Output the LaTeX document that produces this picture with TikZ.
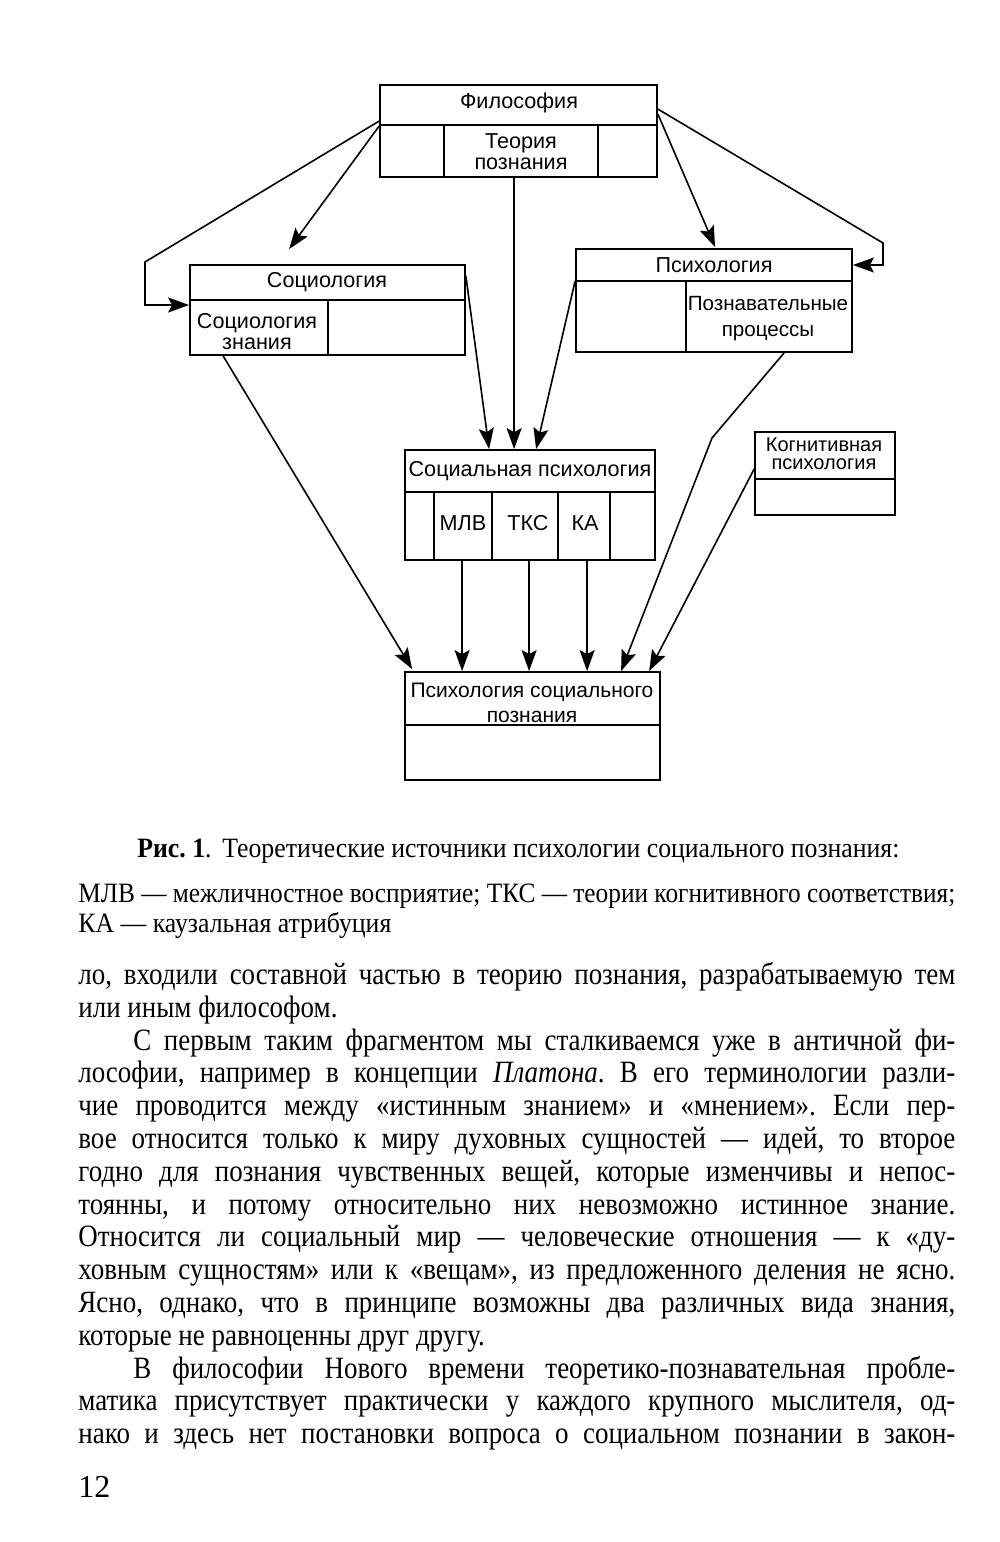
\documentclass[tikz,border=0pt]{standalone}
\usepackage{fontspec}
\usepackage{graphicx}
\setmainfont{Liberation Serif}[FakeStretch=0.87]
\newfontfamily\diag{Liberation Sans}
\newfontfamily\capfont{Liberation Serif}[FakeStretch=0.92]
\newfontfamily\pgfont{Liberation Serif}
\usetikzlibrary{arrows.meta,calc,fit}
\frenchspacing
\tikzset{
  box/.style={draw, line width=0.9pt, inner sep=0pt},
  divl/.style={line width=0.9pt},
  conn/.style={line width=0.8pt, -{Stealth[length=10.5pt,width=7.5pt,inset=2pt]}},
  dtext/.style={font=\diag\fontsize{10.8}{10.5}\selectfont, align=center, inner sep=0pt},
  qtext/.style={font=\diag\fontsize{10.5}{12.5}\selectfont, align=center, inner sep=0pt},
  ptext/.style={font=\diag\fontsize{10.3}{13}\selectfont, align=center, inner sep=0pt},
  ktext/.style={font=\diag\fontsize{10}{9.2}\selectfont, align=center, inner sep=0pt},
  bodyline/.style={anchor=base west, inner sep=0pt, font=\fontsize{15.5}{16}\selectfont},
  capline/.style={anchor=base west, inner sep=0pt, font=\capfont\fontsize{14}{15}\selectfont},
}
\newlength\natw
\newcommand\fitline[2][438.5pt]{%
  \settowidth\natw{#2}%
  \ifdim\natw>#1\relax
    \pgfmathsetmacro\fitfac{#1/\natw}%
    \scalebox{\fitfac}[1]{#2}%
  \else
    \makebox[#1][s]{#2}%
  \fi}
\begin{document}
\begin{tikzpicture}[x=0.5pt,y=-0.5pt]
\path[use as bounding box, fill=white] (0,0) rectangle (1000,1542);

% boxes
\node[box, fit={(380,85) (657,177)}] (fil) {};
\node[box, fit={(190,265) (465,355)}] (soc) {};
\node[box, fit={(576,249) (852,352)}] (psy) {};
\node[box, fit={(405,450) (655,560)}] (sp) {};
\node[box, fit={(755,432) (895,515)}] (kog) {};
\node[box, fit={(405,672) (660,780)}] (psp) {};

% dividers
\draw[divl] (380,125) -- (657,125) (444,125) -- (444,177) (598,125) -- (598,177);
\draw[divl] (190,300) -- (465,300) (328,300) -- (328,355);
\draw[divl] (576,281) -- (852,281) (686,281) -- (686,352);
\draw[divl] (405,492) -- (655,492) (434,492) -- (434,560) (492,492) -- (492,560) (558,492) -- (558,560) (610,492) -- (610,560);
\draw[divl] (755,479) -- (895,479);
\draw[divl] (405,725) -- (660,725);

% texts
\node[dtext] (tfil) at (519,103) {Философия};
\node[dtext] (tteo) at (521,152) {Теория\\познания};
\node[dtext] (tsoc) at (327,282) {Социология};
\node[dtext] (tsocz) at (257,332) {Социология\\знания};
\node[dtext] (tpsy) at (714,265) {Психология};
\node[ptext] (tpoz) at (768,319) {Познавательные\\процессы};
\node[dtext] (tsp) at (530,471) {Социальная психология};
\node[dtext] (tmlv) at (463,523) {МЛВ};
\node[dtext] (ttks) at (528,523) {ТКС};
\node[dtext] (tka) at (585,523) {КА};
\node[ktext] (tkog) at (824,454) {Когнитивная\\психология};
\node[qtext] (tpsp) at (532,703) {Психология социального\\познания};

% bend coordinates
\coordinate (a1) at (145,262);
\coordinate (a2) at (145,305);
\coordinate (e1) at (883,243);
\coordinate (e2) at (883,265);
\coordinate (l1) at (712,438);

% connectors
\draw[conn] ($(fil.north west)+(0,37)$) -- (a1) -- (a2) -- (soc.west |- a2);
\draw[conn] ($(fil.north west)+(0,42)$) -- ($(soc.north west)+(100,-15)$);
\draw[conn] ($(fil.south west)+(135,0)$) -- ($(sp.north west)+(110,0)$);
\draw[conn] ($(fil.north east)+(0,30)$) -- ($(psy.north west)+(140,-1)$);
\draw[conn] ($(fil.north east)+(0,25)$) -- (e1) -- (e2) -- (psy.east |- e2);
\draw[conn] ($(soc.north east)+(0,12)$) -- ($(sp.north west)+(85,0)$);
\draw[conn] ($(psy.north west)+(0,33)$) -- ($(sp.north west)+(132,0)$);
\draw[conn] ($(soc.south west)+(34,0)$) -- ($(psp.north west)+(8,-2)$);
\draw[conn] ($(sp.south west)+(58,0)$) -- ($(psp.north west)+(58,0)$);
\draw[conn] ($(sp.south west)+(125,0)$) -- ($(psp.north west)+(125,0)$);
\draw[conn] ($(sp.south west)+(183,0)$) -- ($(psp.north west)+(183,0)$);
\draw[conn] ($(psy.south west)+(209,0)$) -- (l1) -- ($(psp.north west)+(217,0)$);
\draw[conn] ($(kog.north west)+(0,38)$) -- ($(psp.north west)+(245,0)$);

% caption
\node[capline] (cap1a) at (137,857) {\textbf{Рис. 1}.};
\node[capline] (cap1b) at (222,857) {Теоретические источники психологии социального познания:};
\node[capline] (cap2) at (78,902) {\fitline{МЛВ — межличностное восприятие; ТКС — теории когнитивного соответствия;}};
\node[capline] (cap3) at (78,932) {КА — каузальная атрибуция};

% body
\node[bodyline] (b1) at (78,984) {\fitline{ло, входили составной частью в теорию познания, разрабатываемую тем}};
\node[bodyline] (b2) at (78,1017) {или иным философом.};
\node[bodyline] (b3) at (133,1050) {\fitline[411pt]{С первым таким фрагментом мы сталкиваемся уже в античной фи-}};
\node[bodyline] (b4) at (78,1082) {\fitline{лософии, например в концепции \textit{Платона}. В его терминологии разли-}};
\node[bodyline] (b5) at (78,1115) {\fitline{чие проводится между «истинным знанием» и «мнением». Если пер-}};
\node[bodyline] (b6) at (78,1148) {\fitline{вое относится только к миру духовных сущностей — идей, то второе}};
\node[bodyline] (b7) at (78,1181) {\fitline{годно для познания чувственных вещей, которые изменчивы и непос-}};
\node[bodyline] (b8) at (78,1214) {\fitline{тоянны, и потому относительно них невозможно истинное знание.}};
\node[bodyline] (b9) at (78,1246) {\fitline{Относится ли социальный мир — человеческие отношения — к «ду-}};
\node[bodyline] (b10) at (78,1279) {\fitline{ховным сущностям» или к «вещам», из предложенного деления не ясно.}};
\node[bodyline] (b11) at (78,1312) {\fitline{Ясно, однако, что в принципе возможны два различных вида знания,}};
\node[bodyline] (b12) at (78,1345) {которые не равноценны друг другу.};
\node[bodyline] (b13) at (133,1378) {\fitline[411pt]{В философии Нового времени теоретико-познавательная пробле-}};
\node[bodyline] (b14) at (78,1410) {\fitline{матика присутствует практически у каждого крупного мыслителя, од-}};
\node[bodyline] (b15) at (78,1443) {\fitline{нако и здесь нет постановки вопроса о социальном познании в закон-}};
\node[anchor=base west, inner sep=0pt, font=\pgfont\fontsize{16}{16}\selectfont] (pg) at (78,1497) {12};
\end{tikzpicture}
\end{document}
